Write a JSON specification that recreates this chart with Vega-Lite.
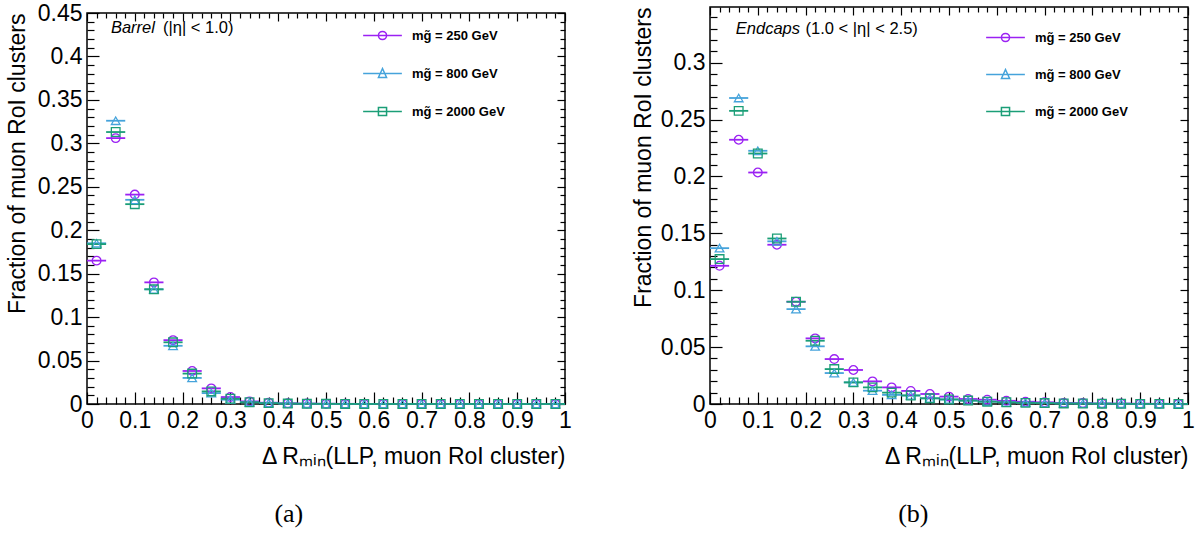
{
  "$schema": "https://vega.github.io/schema/vega-lite/v6.json",
  "background": "white",
  "padding": {"left": 5, "top": 1, "right": 5, "bottom": 5},
  "spacing": 58,
  "config": {"font": "Liberation Sans"},
  "data": {"values": [
    {"region":"Barrel","mass":"250","x":0.02,"lo":0,"hi":0.04,"frac":0.165},
    {"region":"Barrel","mass":"250","x":0.06,"lo":0.04,"hi":0.08,"frac":0.306},
    {"region":"Barrel","mass":"250","x":0.1,"lo":0.08,"hi":0.12,"frac":0.241},
    {"region":"Barrel","mass":"250","x":0.14,"lo":0.12,"hi":0.16,"frac":0.14},
    {"region":"Barrel","mass":"250","x":0.18,"lo":0.16,"hi":0.2,"frac":0.0735},
    {"region":"Barrel","mass":"250","x":0.22,"lo":0.2,"hi":0.24,"frac":0.038},
    {"region":"Barrel","mass":"250","x":0.26,"lo":0.24,"hi":0.28,"frac":0.018},
    {"region":"Barrel","mass":"250","x":0.3,"lo":0.28,"hi":0.32,"frac":0.008},
    {"region":"Barrel","mass":"250","x":0.34,"lo":0.32,"hi":0.36,"frac":0.003},
    {"region":"Barrel","mass":"250","x":0.38,"lo":0.36,"hi":0.4,"frac":0.0015},
    {"region":"Barrel","mass":"250","x":0.42,"lo":0.4,"hi":0.44,"frac":0.0008},
    {"region":"Barrel","mass":"250","x":0.46,"lo":0.44,"hi":0.48,"frac":0.0005},
    {"region":"Barrel","mass":"250","x":0.5,"lo":0.48,"hi":0.52,"frac":0.0003},
    {"region":"Barrel","mass":"250","x":0.54,"lo":0.52,"hi":0.56,"frac":0.0002},
    {"region":"Barrel","mass":"250","x":0.58,"lo":0.56,"hi":0.6,"frac":0.0001},
    {"region":"Barrel","mass":"250","x":0.62,"lo":0.6,"hi":0.64,"frac":0.0001},
    {"region":"Barrel","mass":"250","x":0.66,"lo":0.64,"hi":0.68,"frac":0},
    {"region":"Barrel","mass":"250","x":0.7,"lo":0.68,"hi":0.72,"frac":0},
    {"region":"Barrel","mass":"250","x":0.74,"lo":0.72,"hi":0.76,"frac":0},
    {"region":"Barrel","mass":"250","x":0.78,"lo":0.76,"hi":0.8,"frac":0},
    {"region":"Barrel","mass":"250","x":0.82,"lo":0.8,"hi":0.84,"frac":0},
    {"region":"Barrel","mass":"250","x":0.86,"lo":0.84,"hi":0.88,"frac":0},
    {"region":"Barrel","mass":"250","x":0.9,"lo":0.88,"hi":0.92,"frac":0},
    {"region":"Barrel","mass":"250","x":0.94,"lo":0.92,"hi":0.96,"frac":0},
    {"region":"Barrel","mass":"250","x":0.98,"lo":0.96,"hi":1,"frac":0},
    {"region":"Barrel","mass":"800","x":0.02,"lo":0,"hi":0.04,"frac":0.185},
    {"region":"Barrel","mass":"800","x":0.06,"lo":0.04,"hi":0.08,"frac":0.326},
    {"region":"Barrel","mass":"800","x":0.1,"lo":0.08,"hi":0.12,"frac":0.235},
    {"region":"Barrel","mass":"800","x":0.14,"lo":0.12,"hi":0.16,"frac":0.132},
    {"region":"Barrel","mass":"800","x":0.18,"lo":0.16,"hi":0.2,"frac":0.067},
    {"region":"Barrel","mass":"800","x":0.22,"lo":0.2,"hi":0.24,"frac":0.03},
    {"region":"Barrel","mass":"800","x":0.26,"lo":0.24,"hi":0.28,"frac":0.0125},
    {"region":"Barrel","mass":"800","x":0.3,"lo":0.28,"hi":0.32,"frac":0.005},
    {"region":"Barrel","mass":"800","x":0.34,"lo":0.32,"hi":0.36,"frac":0.002},
    {"region":"Barrel","mass":"800","x":0.38,"lo":0.36,"hi":0.4,"frac":0.001},
    {"region":"Barrel","mass":"800","x":0.42,"lo":0.4,"hi":0.44,"frac":0.0005},
    {"region":"Barrel","mass":"800","x":0.46,"lo":0.44,"hi":0.48,"frac":0.0003},
    {"region":"Barrel","mass":"800","x":0.5,"lo":0.48,"hi":0.52,"frac":0.0002},
    {"region":"Barrel","mass":"800","x":0.54,"lo":0.52,"hi":0.56,"frac":0.0001},
    {"region":"Barrel","mass":"800","x":0.58,"lo":0.56,"hi":0.6,"frac":0.0001},
    {"region":"Barrel","mass":"800","x":0.62,"lo":0.6,"hi":0.64,"frac":0},
    {"region":"Barrel","mass":"800","x":0.66,"lo":0.64,"hi":0.68,"frac":0},
    {"region":"Barrel","mass":"800","x":0.7,"lo":0.68,"hi":0.72,"frac":0},
    {"region":"Barrel","mass":"800","x":0.74,"lo":0.72,"hi":0.76,"frac":0},
    {"region":"Barrel","mass":"800","x":0.78,"lo":0.76,"hi":0.8,"frac":0},
    {"region":"Barrel","mass":"800","x":0.82,"lo":0.8,"hi":0.84,"frac":0},
    {"region":"Barrel","mass":"800","x":0.86,"lo":0.84,"hi":0.88,"frac":0},
    {"region":"Barrel","mass":"800","x":0.9,"lo":0.88,"hi":0.92,"frac":0},
    {"region":"Barrel","mass":"800","x":0.94,"lo":0.92,"hi":0.96,"frac":0},
    {"region":"Barrel","mass":"800","x":0.98,"lo":0.96,"hi":1,"frac":0},
    {"region":"Barrel","mass":"2000","x":0.02,"lo":0,"hi":0.04,"frac":0.184},
    {"region":"Barrel","mass":"2000","x":0.06,"lo":0.04,"hi":0.08,"frac":0.313},
    {"region":"Barrel","mass":"2000","x":0.1,"lo":0.08,"hi":0.12,"frac":0.23},
    {"region":"Barrel","mass":"2000","x":0.14,"lo":0.12,"hi":0.16,"frac":0.132},
    {"region":"Barrel","mass":"2000","x":0.18,"lo":0.16,"hi":0.2,"frac":0.071},
    {"region":"Barrel","mass":"2000","x":0.22,"lo":0.2,"hi":0.24,"frac":0.035},
    {"region":"Barrel","mass":"2000","x":0.26,"lo":0.24,"hi":0.28,"frac":0.0145},
    {"region":"Barrel","mass":"2000","x":0.3,"lo":0.28,"hi":0.32,"frac":0.006},
    {"region":"Barrel","mass":"2000","x":0.34,"lo":0.32,"hi":0.36,"frac":0.002},
    {"region":"Barrel","mass":"2000","x":0.38,"lo":0.36,"hi":0.4,"frac":0.001},
    {"region":"Barrel","mass":"2000","x":0.42,"lo":0.4,"hi":0.44,"frac":0.0005},
    {"region":"Barrel","mass":"2000","x":0.46,"lo":0.44,"hi":0.48,"frac":0.0003},
    {"region":"Barrel","mass":"2000","x":0.5,"lo":0.48,"hi":0.52,"frac":0.0002},
    {"region":"Barrel","mass":"2000","x":0.54,"lo":0.52,"hi":0.56,"frac":0.0001},
    {"region":"Barrel","mass":"2000","x":0.58,"lo":0.56,"hi":0.6,"frac":0},
    {"region":"Barrel","mass":"2000","x":0.62,"lo":0.6,"hi":0.64,"frac":0},
    {"region":"Barrel","mass":"2000","x":0.66,"lo":0.64,"hi":0.68,"frac":0},
    {"region":"Barrel","mass":"2000","x":0.7,"lo":0.68,"hi":0.72,"frac":0},
    {"region":"Barrel","mass":"2000","x":0.74,"lo":0.72,"hi":0.76,"frac":0},
    {"region":"Barrel","mass":"2000","x":0.78,"lo":0.76,"hi":0.8,"frac":0},
    {"region":"Barrel","mass":"2000","x":0.82,"lo":0.8,"hi":0.84,"frac":0},
    {"region":"Barrel","mass":"2000","x":0.86,"lo":0.84,"hi":0.88,"frac":0},
    {"region":"Barrel","mass":"2000","x":0.9,"lo":0.88,"hi":0.92,"frac":0},
    {"region":"Barrel","mass":"2000","x":0.94,"lo":0.92,"hi":0.96,"frac":0},
    {"region":"Barrel","mass":"2000","x":0.98,"lo":0.96,"hi":1,"frac":0},
    {"region":"Endcaps","mass":"250","x":0.02,"lo":0,"hi":0.04,"frac":0.1215},
    {"region":"Endcaps","mass":"250","x":0.06,"lo":0.04,"hi":0.08,"frac":0.2323},
    {"region":"Endcaps","mass":"250","x":0.1,"lo":0.08,"hi":0.12,"frac":0.2035},
    {"region":"Endcaps","mass":"250","x":0.14,"lo":0.12,"hi":0.16,"frac":0.14},
    {"region":"Endcaps","mass":"250","x":0.18,"lo":0.16,"hi":0.2,"frac":0.0899},
    {"region":"Endcaps","mass":"250","x":0.22,"lo":0.2,"hi":0.24,"frac":0.0577},
    {"region":"Endcaps","mass":"250","x":0.26,"lo":0.24,"hi":0.28,"frac":0.0395},
    {"region":"Endcaps","mass":"250","x":0.3,"lo":0.28,"hi":0.32,"frac":0.0299},
    {"region":"Endcaps","mass":"250","x":0.34,"lo":0.32,"hi":0.36,"frac":0.0199},
    {"region":"Endcaps","mass":"250","x":0.38,"lo":0.36,"hi":0.4,"frac":0.0146},
    {"region":"Endcaps","mass":"250","x":0.42,"lo":0.4,"hi":0.44,"frac":0.0115},
    {"region":"Endcaps","mass":"250","x":0.46,"lo":0.44,"hi":0.48,"frac":0.0088},
    {"region":"Endcaps","mass":"250","x":0.5,"lo":0.48,"hi":0.52,"frac":0.0065},
    {"region":"Endcaps","mass":"250","x":0.54,"lo":0.52,"hi":0.56,"frac":0.0044},
    {"region":"Endcaps","mass":"250","x":0.58,"lo":0.56,"hi":0.6,"frac":0.0038},
    {"region":"Endcaps","mass":"250","x":0.62,"lo":0.6,"hi":0.64,"frac":0.0028},
    {"region":"Endcaps","mass":"250","x":0.66,"lo":0.64,"hi":0.68,"frac":0.002},
    {"region":"Endcaps","mass":"250","x":0.7,"lo":0.68,"hi":0.72,"frac":0.0015},
    {"region":"Endcaps","mass":"250","x":0.74,"lo":0.72,"hi":0.76,"frac":0.001},
    {"region":"Endcaps","mass":"250","x":0.78,"lo":0.76,"hi":0.8,"frac":0.0008},
    {"region":"Endcaps","mass":"250","x":0.82,"lo":0.8,"hi":0.84,"frac":0.0005},
    {"region":"Endcaps","mass":"250","x":0.86,"lo":0.84,"hi":0.88,"frac":0.0004},
    {"region":"Endcaps","mass":"250","x":0.9,"lo":0.88,"hi":0.92,"frac":0.0003},
    {"region":"Endcaps","mass":"250","x":0.94,"lo":0.92,"hi":0.96,"frac":0.0002},
    {"region":"Endcaps","mass":"250","x":0.98,"lo":0.96,"hi":1,"frac":0.0001},
    {"region":"Endcaps","mass":"800","x":0.02,"lo":0,"hi":0.04,"frac":0.137},
    {"region":"Endcaps","mass":"800","x":0.06,"lo":0.04,"hi":0.08,"frac":0.269},
    {"region":"Endcaps","mass":"800","x":0.1,"lo":0.08,"hi":0.12,"frac":0.2226},
    {"region":"Endcaps","mass":"800","x":0.14,"lo":0.12,"hi":0.16,"frac":0.143},
    {"region":"Endcaps","mass":"800","x":0.18,"lo":0.16,"hi":0.2,"frac":0.0834},
    {"region":"Endcaps","mass":"800","x":0.22,"lo":0.2,"hi":0.24,"frac":0.0507},
    {"region":"Endcaps","mass":"800","x":0.26,"lo":0.24,"hi":0.28,"frac":0.0272},
    {"region":"Endcaps","mass":"800","x":0.3,"lo":0.28,"hi":0.32,"frac":0.019},
    {"region":"Endcaps","mass":"800","x":0.34,"lo":0.32,"hi":0.36,"frac":0.0117},
    {"region":"Endcaps","mass":"800","x":0.38,"lo":0.36,"hi":0.4,"frac":0.008},
    {"region":"Endcaps","mass":"800","x":0.42,"lo":0.4,"hi":0.44,"frac":0.0075},
    {"region":"Endcaps","mass":"800","x":0.46,"lo":0.44,"hi":0.48,"frac":0.005},
    {"region":"Endcaps","mass":"800","x":0.5,"lo":0.48,"hi":0.52,"frac":0.004},
    {"region":"Endcaps","mass":"800","x":0.54,"lo":0.52,"hi":0.56,"frac":0.003},
    {"region":"Endcaps","mass":"800","x":0.58,"lo":0.56,"hi":0.6,"frac":0.0022},
    {"region":"Endcaps","mass":"800","x":0.62,"lo":0.6,"hi":0.64,"frac":0.0015},
    {"region":"Endcaps","mass":"800","x":0.66,"lo":0.64,"hi":0.68,"frac":0.0012},
    {"region":"Endcaps","mass":"800","x":0.7,"lo":0.68,"hi":0.72,"frac":0.0008},
    {"region":"Endcaps","mass":"800","x":0.74,"lo":0.72,"hi":0.76,"frac":0.0005},
    {"region":"Endcaps","mass":"800","x":0.78,"lo":0.76,"hi":0.8,"frac":0.0004},
    {"region":"Endcaps","mass":"800","x":0.82,"lo":0.8,"hi":0.84,"frac":0.0003},
    {"region":"Endcaps","mass":"800","x":0.86,"lo":0.84,"hi":0.88,"frac":0.0002},
    {"region":"Endcaps","mass":"800","x":0.9,"lo":0.88,"hi":0.92,"frac":0.0001},
    {"region":"Endcaps","mass":"800","x":0.94,"lo":0.92,"hi":0.96,"frac":0.0001},
    {"region":"Endcaps","mass":"800","x":0.98,"lo":0.96,"hi":1,"frac":0},
    {"region":"Endcaps","mass":"2000","x":0.02,"lo":0,"hi":0.04,"frac":0.1274},
    {"region":"Endcaps","mass":"2000","x":0.06,"lo":0.04,"hi":0.08,"frac":0.2577},
    {"region":"Endcaps","mass":"2000","x":0.1,"lo":0.08,"hi":0.12,"frac":0.2202},
    {"region":"Endcaps","mass":"2000","x":0.14,"lo":0.12,"hi":0.16,"frac":0.1455},
    {"region":"Endcaps","mass":"2000","x":0.18,"lo":0.16,"hi":0.2,"frac":0.0899},
    {"region":"Endcaps","mass":"2000","x":0.22,"lo":0.2,"hi":0.24,"frac":0.0556},
    {"region":"Endcaps","mass":"2000","x":0.26,"lo":0.24,"hi":0.28,"frac":0.0307},
    {"region":"Endcaps","mass":"2000","x":0.3,"lo":0.28,"hi":0.32,"frac":0.019},
    {"region":"Endcaps","mass":"2000","x":0.34,"lo":0.32,"hi":0.36,"frac":0.0146},
    {"region":"Endcaps","mass":"2000","x":0.38,"lo":0.36,"hi":0.4,"frac":0.01},
    {"region":"Endcaps","mass":"2000","x":0.42,"lo":0.4,"hi":0.44,"frac":0.0075},
    {"region":"Endcaps","mass":"2000","x":0.46,"lo":0.44,"hi":0.48,"frac":0.005},
    {"region":"Endcaps","mass":"2000","x":0.5,"lo":0.48,"hi":0.52,"frac":0.004},
    {"region":"Endcaps","mass":"2000","x":0.54,"lo":0.52,"hi":0.56,"frac":0.003},
    {"region":"Endcaps","mass":"2000","x":0.58,"lo":0.56,"hi":0.6,"frac":0.002},
    {"region":"Endcaps","mass":"2000","x":0.62,"lo":0.6,"hi":0.64,"frac":0.0015},
    {"region":"Endcaps","mass":"2000","x":0.66,"lo":0.64,"hi":0.68,"frac":0.001},
    {"region":"Endcaps","mass":"2000","x":0.7,"lo":0.68,"hi":0.72,"frac":0.0008},
    {"region":"Endcaps","mass":"2000","x":0.74,"lo":0.72,"hi":0.76,"frac":0.0005},
    {"region":"Endcaps","mass":"2000","x":0.78,"lo":0.76,"hi":0.8,"frac":0.0004},
    {"region":"Endcaps","mass":"2000","x":0.82,"lo":0.8,"hi":0.84,"frac":0.0003},
    {"region":"Endcaps","mass":"2000","x":0.86,"lo":0.84,"hi":0.88,"frac":0.0002},
    {"region":"Endcaps","mass":"2000","x":0.9,"lo":0.88,"hi":0.92,"frac":0.0001},
    {"region":"Endcaps","mass":"2000","x":0.94,"lo":0.92,"hi":0.96,"frac":0.0001},
    {"region":"Endcaps","mass":"2000","x":0.98,"lo":0.96,"hi":1,"frac":0}
  ]},
  "hconcat": [
    {
      "vconcat": [
        {
          "width": 478, "height": 6,
          "view": {"stroke": null},
          "data": {"values": []},
          "mark": {"type": "rule", "opacity": 0},
          "encoding": {}
        },
        {
          "width": 478, "height": 391,
          "view": {"stroke": "black", "strokeWidth": 1.5},
          "title": {"text": "(a)", "orient": "bottom", "anchor": "middle", "frame": "bounds", "font": "Liberation Serif", "fontSize": 26, "fontWeight": "normal", "color": "black", "offset": 33},
          "transform": [{"filter": "datum.region == 'Barrel'"}],
          "layer": [
            {
              "mark": {"type": "rule", "strokeWidth": 1.8},
              "encoding": {
                "x": {"field": "lo", "type": "quantitative", "scale": {"domain": [0, 1], "nice": false, "zero": false},
                      "axis": {"orient": "bottom", "values": [0,0.1,0.2,0.3,0.4,0.5,0.6,0.7,0.8,0.9,1], "format": "~g", "grid": false, "domain": false, "ticks": true, "tickSize": -12, "tickColor": "black", "tickWidth": 1.2, "labelPadding": 17, "labelFont": "Liberation Sans", "labelFontSize": 23, "labelColor": "black", "labelFlush": false, "labelOverlap": false, "labelBound": false, "title": "Δ Rₘᵢₙ(LLP, muon RoI cluster)", "titleFont": "Liberation Sans", "titleFontSize": 23, "titleFontWeight": "normal", "titleColor": "black", "titleAnchor": "end", "titlePadding": 13}},
                "x2": {"field": "hi"},
                "y": {"field": "frac", "type": "quantitative", "scale": {"domain": [0, 0.45], "nice": false, "zero": false},
                      "axis": {"orient": "left", "values": [0,0.05,0.1,0.15,0.2,0.25,0.3,0.35,0.4,0.45], "format": "~g", "grid": false, "domain": false, "ticks": true, "tickSize": -12, "tickColor": "black", "tickWidth": 1.2, "labelPadding": 17, "labelFont": "Liberation Sans", "labelFontSize": 23, "labelColor": "black", "labelFlush": false, "labelOverlap": false, "labelBound": false, "title": "Fraction of muon RoI clusters", "titleFont": "Liberation Sans", "titleFontSize": 23, "titleFontWeight": "normal", "titleColor": "black", "titleAnchor": "end", "titlePadding": 8}},
                "color": {"field": "mass", "type": "nominal", "scale": {"domain": ["250","800","2000"], "range": ["#9b21f3","#45a3db","#1b9e77"]}, "legend": null}
              }
            },
            {
              "mark": {"type": "point", "filled": false, "size": 75, "strokeWidth": 1.3, "opacity": 1},
              "encoding": {
                "x": {"field": "x", "type": "quantitative", "scale": {"domain": [0, 1], "nice": false, "zero": false},
                      "axis": {"orient": "bottom", "values": [0.02,0.04,0.06,0.08,0.12,0.14,0.16,0.18,0.22,0.24,0.26,0.28,0.32,0.34,0.36,0.38,0.42,0.44,0.46,0.48,0.52,0.54,0.56,0.58,0.62,0.64,0.66,0.68,0.72,0.74,0.76,0.78,0.82,0.84,0.86,0.88,0.92,0.94,0.96,0.98], "labels": false, "grid": false, "domain": false, "ticks": true, "tickSize": -7, "tickColor": "black", "tickWidth": 1.2, "title": null}},
                "y": {"field": "frac", "type": "quantitative", "scale": {"domain": [0, 0.45], "nice": false, "zero": false},
                      "axis": {"orient": "left", "values": [0.01,0.02,0.03,0.04,0.06,0.07,0.08,0.09,0.11,0.12,0.13,0.14,0.16,0.17,0.18,0.19,0.21,0.22,0.23,0.24,0.26,0.27,0.28,0.29,0.31,0.32,0.33,0.34,0.36,0.37,0.38,0.39,0.41,0.42,0.43,0.44], "labels": false, "grid": false, "domain": false, "ticks": true, "tickSize": -7, "tickColor": "black", "tickWidth": 1.2, "title": null}},
                "color": {"field": "mass", "type": "nominal", "scale": {"domain": ["250","800","2000"], "range": ["#9b21f3","#45a3db","#1b9e77"]}, "legend": null},
                "shape": {"field": "mass", "type": "nominal", "scale": {"domain": ["250","800","2000"], "range": ["circle","triangle-up","square"]}, "legend": null}
              }
            },
            {
              "transform": [{"filter": "false"}],
              "mark": {"type": "point", "filled": false, "strokeWidth": 1.5, "opacity": 1},
              "encoding": {
                "x": {"field": "x", "type": "quantitative", "scale": {"domain": [0, 1], "nice": false, "zero": false},
                      "axis": {"orient": "top", "values": [0,0.1,0.2,0.3,0.4,0.5,0.6,0.7,0.8,0.9,1], "labels": false, "grid": false, "domain": false, "ticks": true, "tickSize": -8, "tickColor": "black", "tickWidth": 1.2, "title": null}},
                "y": {"field": "frac", "type": "quantitative", "scale": {"domain": [0, 0.45], "nice": false, "zero": false},
                      "axis": {"orient": "right", "values": [0,0.05,0.1,0.15,0.2,0.25,0.3,0.35,0.4,0.45], "labels": false, "grid": false, "domain": false, "ticks": true, "tickSize": -8, "tickColor": "black", "tickWidth": 1.2, "title": null}},
                "color": {"field": "mass", "type": "nominal", "scale": {"domain": ["250","800","2000"], "range": ["#9b21f3","#45a3db","#1b9e77"]},
                          "legend": {"orient": "none", "legendX": 275, "legendY": 2, "title": null, "labelExpr": "'mg̃ = ' + datum.label + ' GeV'", "labelFont": "Liberation Sans", "labelFontWeight": "bold", "labelFontSize": 13, "labelColor": "black", "symbolSize": 1500, "symbolStrokeWidth": 1.5, "labelOffset": 9, "rowPadding": 10}},
                "shape": {"field": "mass", "type": "nominal", "scale": {"domain": ["250","800","2000"], "range": ["M-1,0H1M-0.21,0A0.21,0.21 0 1 0 0.21,0A0.21,0.21 0 1 0 -0.21,0", "M-1,0H1M0,-0.26L0.21,0.21L-0.21,0.21Z", "M-1,0H1M-0.21,-0.21H0.21V0.21H-0.21Z"]},
                          "legend": {"orient": "none", "legendX": 275, "legendY": 2, "title": null, "labelExpr": "'mg̃ = ' + datum.label + ' GeV'", "labelFont": "Liberation Sans", "labelFontWeight": "bold", "labelFontSize": 13, "labelColor": "black", "symbolSize": 1500, "symbolStrokeWidth": 1.5, "labelOffset": 9, "rowPadding": 10}}
              }
            },
            {
              "data": {"values": [{}]},
              "mark": {"type": "text", "text": "Barrel", "fontStyle": "italic", "font": "Liberation Sans", "fontSize": 16.5, "align": "left", "baseline": "middle", "color": "black"},
              "encoding": {
                "x": {"datum": 0.05, "type": "quantitative", "scale": {"domain": [0, 1], "nice": false, "zero": false},
                      "axis": {"orient": "top", "values": [0.02,0.04,0.06,0.08,0.12,0.14,0.16,0.18,0.22,0.24,0.26,0.28,0.32,0.34,0.36,0.38,0.42,0.44,0.46,0.48,0.52,0.54,0.56,0.58,0.62,0.64,0.66,0.68,0.72,0.74,0.76,0.78,0.82,0.84,0.86,0.88,0.92,0.94,0.96,0.98], "labels": false, "grid": false, "domain": false, "ticks": true, "tickSize": -5, "tickColor": "black", "tickWidth": 1.2, "title": null}},
                "y": {"datum": 0.433, "type": "quantitative", "scale": {"domain": [0, 0.45], "nice": false, "zero": false},
                      "axis": {"orient": "right", "values": [0.01,0.02,0.03,0.04,0.06,0.07,0.08,0.09,0.11,0.12,0.13,0.14,0.16,0.17,0.18,0.19,0.21,0.22,0.23,0.24,0.26,0.27,0.28,0.29,0.31,0.32,0.33,0.34,0.36,0.37,0.38,0.39,0.41,0.42,0.43,0.44], "labels": false, "grid": false, "domain": false, "ticks": true, "tickSize": -5, "tickColor": "black", "tickWidth": 1.2, "title": null}}
              }
            },
            {
              "data": {"values": [{}]},
              "mark": {"type": "text", "text": "(|η| < 1.0)", "font": "Liberation Sans", "fontSize": 16.5, "align": "left", "baseline": "middle", "color": "black"},
              "encoding": {
                "x": {"datum": 0.159, "type": "quantitative", "scale": {"domain": [0, 1], "nice": false, "zero": false}, "axis": null},
                "y": {"datum": 0.433, "type": "quantitative", "scale": {"domain": [0, 0.45], "nice": false, "zero": false}, "axis": null}
              }
            }
          ],
          "resolve": {"scale": {"color": "independent", "shape": "independent"}, "axis": {"x": "independent", "y": "independent"}}
        }
      ],
      "spacing": 0,
      "bounds": "flush"
    },
    {
      "width": 478, "height": 397,
      "view": {"stroke": "black", "strokeWidth": 1.5},
      "title": {"text": "(b)", "orient": "bottom", "anchor": "middle", "frame": "bounds", "font": "Liberation Serif", "fontSize": 26, "fontWeight": "normal", "color": "black", "offset": 33},
      "transform": [{"filter": "datum.region == 'Endcaps'"}],
      "layer": [
        {
          "mark": {"type": "rule", "strokeWidth": 1.8},
          "encoding": {
            "x": {"field": "lo", "type": "quantitative", "scale": {"domain": [0, 1], "nice": false, "zero": false},
                  "axis": {"orient": "bottom", "values": [0,0.1,0.2,0.3,0.4,0.5,0.6,0.7,0.8,0.9,1], "format": "~g", "grid": false, "domain": false, "ticks": true, "tickSize": -12, "tickColor": "black", "tickWidth": 1.2, "labelPadding": 17, "labelFont": "Liberation Sans", "labelFontSize": 23, "labelColor": "black", "labelFlush": false, "labelOverlap": false, "labelBound": false, "title": "Δ Rₘᵢₙ(LLP, muon RoI cluster)", "titleFont": "Liberation Sans", "titleFontSize": 23, "titleFontWeight": "normal", "titleColor": "black", "titleAnchor": "end", "titlePadding": 13}},
            "x2": {"field": "hi"},
            "y": {"field": "frac", "type": "quantitative", "scale": {"domain": [0, 0.349], "nice": false, "zero": false},
                  "axis": {"orient": "left", "values": [0,0.05,0.1,0.15,0.2,0.25,0.3], "format": "~g", "grid": false, "domain": false, "ticks": true, "tickSize": -12, "tickColor": "black", "tickWidth": 1.2, "labelPadding": 17, "labelFont": "Liberation Sans", "labelFontSize": 23, "labelColor": "black", "labelFlush": false, "labelOverlap": false, "labelBound": false, "title": "Fraction of muon RoI clusters", "titleFont": "Liberation Sans", "titleFontSize": 23, "titleFontWeight": "normal", "titleColor": "black", "titleAnchor": "end", "titlePadding": 5}},
            "color": {"field": "mass", "type": "nominal", "scale": {"domain": ["250","800","2000"], "range": ["#9b21f3","#45a3db","#1b9e77"]}, "legend": null}
          }
        },
        {
          "mark": {"type": "point", "filled": false, "size": 75, "strokeWidth": 1.3, "opacity": 1},
          "encoding": {
            "x": {"field": "x", "type": "quantitative", "scale": {"domain": [0, 1], "nice": false, "zero": false},
                  "axis": {"orient": "bottom", "values": [0.02,0.04,0.06,0.08,0.12,0.14,0.16,0.18,0.22,0.24,0.26,0.28,0.32,0.34,0.36,0.38,0.42,0.44,0.46,0.48,0.52,0.54,0.56,0.58,0.62,0.64,0.66,0.68,0.72,0.74,0.76,0.78,0.82,0.84,0.86,0.88,0.92,0.94,0.96,0.98], "labels": false, "grid": false, "domain": false, "ticks": true, "tickSize": -7, "tickColor": "black", "tickWidth": 1.2, "title": null}},
            "y": {"field": "frac", "type": "quantitative", "scale": {"domain": [0, 0.349], "nice": false, "zero": false},
                  "axis": {"orient": "left", "values": [0.01,0.02,0.03,0.04,0.06,0.07,0.08,0.09,0.11,0.12,0.13,0.14,0.16,0.17,0.18,0.19,0.21,0.22,0.23,0.24,0.26,0.27,0.28,0.29,0.31,0.32,0.33,0.34], "labels": false, "grid": false, "domain": false, "ticks": true, "tickSize": -7, "tickColor": "black", "tickWidth": 1.2, "title": null}},
            "color": {"field": "mass", "type": "nominal", "scale": {"domain": ["250","800","2000"], "range": ["#9b21f3","#45a3db","#1b9e77"]}, "legend": null},
            "shape": {"field": "mass", "type": "nominal", "scale": {"domain": ["250","800","2000"], "range": ["circle","triangle-up","square"]}, "legend": null}
          }
        },
        {
          "transform": [{"filter": "false"}],
          "mark": {"type": "point", "filled": false, "strokeWidth": 1.5, "opacity": 1},
          "encoding": {
            "x": {"field": "x", "type": "quantitative", "scale": {"domain": [0, 1], "nice": false, "zero": false},
                  "axis": {"orient": "top", "values": [0,0.1,0.2,0.3,0.4,0.5,0.6,0.7,0.8,0.9,1], "labels": false, "grid": false, "domain": false, "ticks": true, "tickSize": -8, "tickColor": "black", "tickWidth": 1.2, "title": null}},
            "y": {"field": "frac", "type": "quantitative", "scale": {"domain": [0, 0.349], "nice": false, "zero": false},
                  "axis": {"orient": "right", "values": [0,0.05,0.1,0.15,0.2,0.25,0.3], "labels": false, "grid": false, "domain": false, "ticks": true, "tickSize": -8, "tickColor": "black", "tickWidth": 1.2, "title": null}},
            "color": {"field": "mass", "type": "nominal", "scale": {"domain": ["250","800","2000"], "range": ["#9b21f3","#45a3db","#1b9e77"]},
                      "legend": {"orient": "none", "legendX": 275, "legendY": 10, "title": null, "labelExpr": "'mg̃ = ' + datum.label + ' GeV'", "labelFont": "Liberation Sans", "labelFontWeight": "bold", "labelFontSize": 13, "labelColor": "black", "symbolSize": 1500, "symbolStrokeWidth": 1.5, "labelOffset": 9, "rowPadding": 9}},
            "shape": {"field": "mass", "type": "nominal", "scale": {"domain": ["250","800","2000"], "range": ["M-1,0H1M-0.21,0A0.21,0.21 0 1 0 0.21,0A0.21,0.21 0 1 0 -0.21,0", "M-1,0H1M0,-0.26L0.21,0.21L-0.21,0.21Z", "M-1,0H1M-0.21,-0.21H0.21V0.21H-0.21Z"]},
                      "legend": {"orient": "none", "legendX": 275, "legendY": 10, "title": null, "labelExpr": "'mg̃ = ' + datum.label + ' GeV'", "labelFont": "Liberation Sans", "labelFontWeight": "bold", "labelFontSize": 13, "labelColor": "black", "symbolSize": 1500, "symbolStrokeWidth": 1.5, "labelOffset": 9, "rowPadding": 9}}
          }
        },
        {
          "data": {"values": [{}]},
          "mark": {"type": "text", "text": "Endcaps", "fontStyle": "italic", "font": "Liberation Sans", "fontSize": 16.5, "align": "left", "baseline": "middle", "color": "black"},
          "encoding": {
            "x": {"datum": 0.054, "type": "quantitative", "scale": {"domain": [0, 1], "nice": false, "zero": false},
                  "axis": {"orient": "top", "values": [0.02,0.04,0.06,0.08,0.12,0.14,0.16,0.18,0.22,0.24,0.26,0.28,0.32,0.34,0.36,0.38,0.42,0.44,0.46,0.48,0.52,0.54,0.56,0.58,0.62,0.64,0.66,0.68,0.72,0.74,0.76,0.78,0.82,0.84,0.86,0.88,0.92,0.94,0.96,0.98], "labels": false, "grid": false, "domain": false, "ticks": true, "tickSize": -5, "tickColor": "black", "tickWidth": 1.2, "title": null}},
            "y": {"datum": 0.3295, "type": "quantitative", "scale": {"domain": [0, 0.349], "nice": false, "zero": false},
                  "axis": {"orient": "right", "values": [0.01,0.02,0.03,0.04,0.06,0.07,0.08,0.09,0.11,0.12,0.13,0.14,0.16,0.17,0.18,0.19,0.21,0.22,0.23,0.24,0.26,0.27,0.28,0.29,0.31,0.32,0.33,0.34], "labels": false, "grid": false, "domain": false, "ticks": true, "tickSize": -5, "tickColor": "black", "tickWidth": 1.2, "title": null}}
          }
        },
        {
          "data": {"values": [{}]},
          "mark": {"type": "text", "text": "(1.0 < |η| < 2.5)", "font": "Liberation Sans", "fontSize": 16.5, "align": "left", "baseline": "middle", "color": "black"},
          "encoding": {
            "x": {"datum": 0.2, "type": "quantitative", "scale": {"domain": [0, 1], "nice": false, "zero": false}, "axis": null},
            "y": {"datum": 0.3295, "type": "quantitative", "scale": {"domain": [0, 0.349], "nice": false, "zero": false}, "axis": null}
          }
        }
      ],
      "resolve": {"scale": {"color": "independent", "shape": "independent"}, "axis": {"x": "independent", "y": "independent"}}
    }
  ]
}
